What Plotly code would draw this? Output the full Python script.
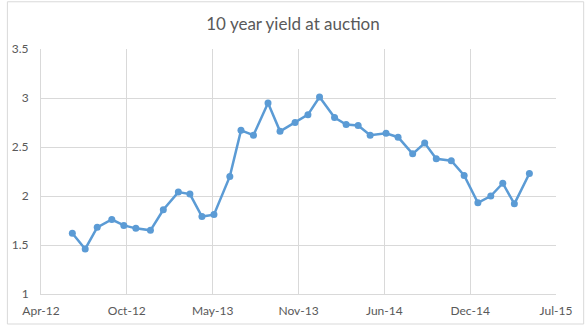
import plotly.graph_objects as go

# Monthly 10-year note auction yields (%)
auction_dates = [
    "2012-06-13", "2012-07-13", "2012-08-10", "2012-09-13", "2012-10-11", "2012-11-08",
    "2012-12-12", "2013-01-11", "2013-02-15", "2013-03-14", "2013-04-11", "2013-05-09",
    "2013-06-15", "2013-07-11", "2013-08-09", "2013-09-12", "2013-10-10", "2013-11-14",
    "2013-12-14", "2014-01-10", "2014-02-14", "2014-03-13", "2014-04-10", "2014-05-08",
    "2014-06-14", "2014-07-12", "2014-08-15", "2014-09-12", "2014-10-09", "2014-11-13",
    "2014-12-13", "2015-01-14", "2015-02-13", "2015-03-13", "2015-04-09", "2015-05-14",
]
yields = [
    1.62, 1.46, 1.68, 1.76, 1.70, 1.67,
    1.65, 1.86, 2.04, 2.02, 1.79, 1.81,
    2.20, 2.67, 2.62, 2.95, 2.66, 2.75,
    2.83, 3.01, 2.80, 2.73, 2.72, 2.62,
    2.64, 2.60, 2.43, 2.54, 2.38, 2.36,
    2.21, 1.93, 2.00, 2.13, 1.92, 2.23,
]

# Date axis: ticks every 200 days from 1 Apr 2012
x_ticks = ["2012-04-01", "2012-10-18", "2013-05-06", "2013-11-22",
           "2014-06-10", "2014-12-27", "2015-07-15"]
x_tick_labels = ["Apr-12", "Oct-12", "May-13", "Nov-13", "Jun-14", "Dec-14", "Jul-15"]
y_ticks = [1, 1.5, 2, 2.5, 3, 3.5]

W, H = 586, 330
ML, MR, MT, MB = 35, 30, 49, 32
TEXT = "#595959"
GRID = "#d9d9d9"
BLUE = "#5b9bd5"

fig = go.Figure(
    go.Scatter(
        x=auction_dates,
        y=yields,
        mode="lines+markers",
        line=dict(color=BLUE, width=2.5),
        marker=dict(color=BLUE, size=7),
        hoverinfo="x+y",
    )
)

pw, ph = W - ML - MR, H - MT - MB


def px_x(p):
    return (p - ML) / pw


def px_y(p):
    return (H - MB - p) / ph


fig.update_layout(
    width=W,
    height=H,
    margin=dict(l=ML, r=MR, t=MT, b=MB),
    paper_bgcolor="white",
    plot_bgcolor="white",
    showlegend=False,
    font=dict(family="Lato", size=12, color=TEXT),
    title=dict(
        text="10 year yield at auction",
        x=0.5,
        xanchor="center",
        xref="container",
        y=1 - 24 / H,
        yref="container",
        yanchor="middle",
        font=dict(family="Lato", size=17, color=TEXT),
    ),
    xaxis=dict(
        range=[x_ticks[0], x_ticks[-1]],
        tickvals=x_ticks,
        ticktext=x_tick_labels,
        showgrid=True,
        gridcolor=GRID,
        gridwidth=1,
        showline=True,
        linecolor=GRID,
        linewidth=1,
        ticks="",
        zeroline=False,
        ticklabelstandoff=6,
    ),
    yaxis=dict(
        range=[1, 3.5],
        tickvals=y_ticks,
        showgrid=True,
        gridcolor=GRID,
        gridwidth=1,
        showline=True,
        linecolor=GRID,
        linewidth=1,
        ticks="",
        zeroline=False,
        ticklabelstandoff=9,
    ),
    shapes=[
        dict(
            type="rect",
            xref="paper",
            yref="paper",
            x0=px_x(1),
            x1=px_x(584),
            y0=px_y(328.5),
            y1=px_y(1),
            line=dict(color=GRID, width=1),
            layer="below",
        )
    ],
)

fig.write_html("out.html")
